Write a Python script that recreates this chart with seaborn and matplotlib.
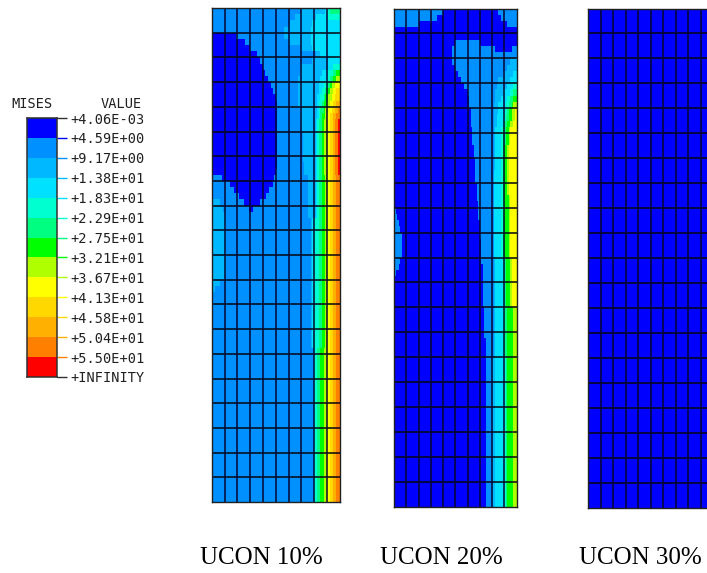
import numpy as np
import seaborn as sns
import matplotlib.pyplot as plt
from matplotlib.colors import ListedColormap

W, H = 707, 573
GRID = 80  # cells per side of each contour panel

### LEGEND ###
LEVEL_COLORS = ["#0000ff", "#0090ff", "#00b8ff", "#00e0ff", "#00ffd0", "#00ff80", "#00ff00",
                "#b0ff00", "#ffff00", "#ffd800", "#ffb000", "#ff8000", "#ff0000"]
LEVEL_LABELS = ["+4.06E-03", "+4.59E+00", "+9.17E+00", "+1.38E+01", "+1.83E+01", "+2.29E+01", "+2.75E+01",
                "+3.21E+01", "+3.67E+01", "+4.13E+01", "+4.58E+01", "+5.04E+01", "+5.50E+01", "+INFINITY"]
PANEL_LABELS = ["UCON 10%", "UCON 20%", "UCON 30%"]

### CONTOUR BANDS, each row is level:last_column read across the panel, 80 rows ###
TAIL_10_A = "2:65 3:66 4:67 5:69 6:70 7:72 8:74 9:76 a:77 b:79 c:80"
TAIL_10_B = "2:65 3:66 4:67 5:69 6:71 7:72 8:74 9:76 a:78 b:80"
TAIL_10_C = "2:63 3:64 4:67 5:69 6:71 7:72 8:74 9:76 a:78 b:80"

UCON_10 = [
    "1:56 2:71 3:72 4:74 5:80",
    "1:52 2:65 3:73 4:80",
    "1:49 2:63 3:80",
    "1:45 2:62 3:80",
    "0:15 1:45 2:62 3:80",
    "0:21 1:48 2:62 3:80",
    "0:24 1:56 2:63 3:80",
    "0:28 1:65 2:68 3:80",
    "0:30 1:63 2:73 3:80",
    "0:32 1:56 2:73 3:76 4:80",
    "0:33 1:55 2:69 3:73 4:76 5:78 6:80",
    "0:35 1:54 2:68 3:72 4:74 5:76 6:78 7:80",
    "0:37 1:54 2:67 3:70 4:72 5:74 6:75 7:77 8:80",
    "0:38 1:54 2:67 3:69 4:71 5:72 6:74 7:76 8:78 9:80",
    "0:40 1:54 2:66 3:68 4:70 5:71 6:73 7:75 8:77 9:80",
    "0:41 1:54 2:66 3:67 4:69 5:70 6:72 7:74 8:76 9:78 a:80",
    "0:41 1:55 2:66 3:67 4:68 5:70 6:71 7:73 8:75 9:77 a:79 b:80",
    "0:41 1:55 2:66 3:67 4:68 5:69 6:71 7:72 8:74 9:76 a:78 b:80",
    "0:41 1:56 " + TAIL_10_A,
    "0:41 1:56 " + TAIL_10_A,
    "0:41 1:57 " + TAIL_10_A,
    "0:41 1:57 " + TAIL_10_A,
    "0:41 1:57 " + TAIL_10_A,
    "0:41 1:57 " + TAIL_10_A,
    "0:41 1:57 " + TAIL_10_A,
    "0:41 1:58 " + TAIL_10_A,
    "0:40 1:58 " + TAIL_10_A,
    "1:6 0:39 1:60 " + TAIL_10_B,
    "1:11 0:38 1:60 " + TAIL_10_B,
    "1:14 0:36 1:60 " + TAIL_10_B,
    "1:17 0:34 1:60 " + TAIL_10_B,
    "2:5 1:20 0:30 1:60 " + TAIL_10_B,
    "2:7 1:23 0:26 1:60 " + TAIL_10_B,
    "2:8 1:60 " + TAIL_10_B,
    "2:9 1:62 " + TAIL_10_C,
    *["2:9 1:62 " + TAIL_10_C] * 8,
    "2:8 1:62 " + TAIL_10_C,
    "2:5 1:62 " + TAIL_10_C,
    "2:2 1:62 " + TAIL_10_C,
    *["1:62 " + TAIL_10_C] * 9,
    *["1:64 4:66 5:68 6:70 7:72 8:74 9:76 a:78 b:80"] * 25,
]

TAIL_20_A = "1:65 3:70 4:71 5:72 6:75 7:76 8:80"
TAIL_20_B = "1:65 2:66 3:71 4:72 5:73 6:76 7:77 8:80"
TAIL_20_C = "1:65 2:66 3:71 4:72 5:74 6:78 7:80"
TAIL_20_D = "1:64 2:66 3:72 4:73 5:74 6:78 7:80"

UCON_20 = [
    "1:32 0:68 1:80",
    "1:28 0:70 1:80",
    "1:16 0:74 1:80",
    "0:80",
    "0:80",
    "0:40 1:56 0:80",
    "0:38 1:66 0:77 1:80",
    "0:38 1:80",
    "0:38 1:76 2:80",
    "0:40 1:74 2:80",
    "0:42 1:71 2:78 3:80",
    "0:44 1:68 2:76 3:80",
    "0:46 1:67 2:74 3:78 4:80",
    "0:48 1:66 2:71 3:76 4:78 5:80",
    "0:49 1:66 2:70 3:74 4:76 5:78 6:80",
    "0:49 1:65 2:68 3:73 4:75 5:77 6:78 7:80",
    "0:50 1:65 2:68 3:72 4:74 5:75 6:77 7:79 8:80",
    "0:50 1:65 2:67 3:71 4:73 5:75 6:77 7:79 8:80",
    "0:50 1:65 2:67 3:71 4:72 5:74 6:76 7:78 8:80",
    "0:51 1:65 2:66 3:70 4:71 5:73 6:75 7:76 8:80",
    "0:51 1:65 2:66 3:70 4:71 5:73 6:75 7:76 8:80",
    "0:51 1:65 2:66 3:70 4:71 5:73 6:75 7:76 8:80",
    "0:52 1:65 2:66 3:70 4:71 5:72 6:74 7:75 8:80",
    "0:52 1:65 2:66 3:70 4:71 5:72 6:74 7:75 8:80",
    "0:53 1:65 2:66 3:70 4:71 5:72 6:74 7:75 8:80",
    "0:53 1:65 2:66 3:70 4:71 5:72 6:74 7:75 8:80",
    "0:53 1:65 3:70 4:71 5:72 6:74 7:75 8:80",
    "0:53 1:65 3:70 4:71 5:72 6:74 7:75 8:80",
    "0:54 1:65 3:70 4:71 5:72 6:74 7:75 8:80",
    "0:54 1:65 3:70 4:71 5:72 6:74 7:75 8:80",
    "0:54 " + TAIL_20_A,
    "0:55 " + TAIL_20_A,
    "1:1 0:55 " + TAIL_20_A,
    "1:2 0:55 " + TAIL_20_A,
    "1:3 0:56 " + TAIL_20_A,
    "1:4 0:56 " + TAIL_20_A,
    "1:5 0:56 " + TAIL_20_A,
    "1:5 0:57 " + TAIL_20_A,
    "1:5 0:57 " + TAIL_20_A,
    "1:5 0:57 " + TAIL_20_A,
    "1:4 0:57 " + TAIL_20_B,
    "1:3 0:58 " + TAIL_20_B,
    "1:1 0:58 " + TAIL_20_B,
    *["0:58 " + TAIL_20_B] * 5,
    *["0:59 " + TAIL_20_C] * 5,
    *["0:60 " + TAIL_20_C] * 3,
    *["0:60 " + TAIL_20_D] * 24,
]

UCON_30 = ["0:80"] * GRID

cmap = ListedColormap(LEVEL_COLORS)


def bands_to_levels(rows):
    # turn the level:last_column rows into the cell matrix for the heatmap
    levels = np.zeros((len(rows), GRID), dtype=int)
    for i, row in enumerate(rows):
        start = 0
        for band in row.split():
            level, end = band.split(":")
            levels[i, start:int(end)] = int(level, 16)
            start = int(end)
    return levels


def px_axes(fig, left, top, right, bottom):
    # axes placed by pixel edges measured from the top left of the picture
    return fig.add_axes([left / W, 1 - bottom / H, (right - left) / W, (bottom - top) / H])


def draw_panel(fig, rows, box):
    ax = px_axes(fig, *box)
    sns.heatmap(bands_to_levels(rows), ax=ax, cmap=cmap, vmin=-0.5, vmax=12.5, cbar=False,
                xticklabels=False, yticklabels=False)
    # FE mesh, 10 x 20 elements
    ax.hlines(np.arange(4, GRID, 4), 0, GRID, color="#050510", lw=1.1)
    ax.vlines(np.arange(8, GRID, 8), 0, GRID, color="#050530", lw=1.1)
    for side in ax.spines.values():
        side.set_visible(True)
        side.set_color("#202020")
        side.set_linewidth(1.0)
    return ax


fig = plt.figure(figsize=(W / 100, H / 100), dpi=100, facecolor="white")

draw_panel(fig, UCON_10, (212, 8, 339.5, 502))
draw_panel(fig, UCON_20, (394, 8.5, 516.5, 506.5))
draw_panel(fig, UCON_30, (588, 8.5, 713, 508))

# legend bar
leg = px_axes(fig, 27, 118, 56.5, 377)
sns.heatmap(np.arange(len(LEVEL_COLORS)).reshape(-1, 1), ax=leg, cmap=cmap, vmin=-0.5, vmax=12.5,
            cbar=False, xticklabels=False)
leg.set_yticks(np.arange(len(LEVEL_LABELS)))
leg.set_yticklabels(LEVEL_LABELS, rotation=0, family="DejaVu Sans Mono", fontsize=9.8, color="#202020")
leg.tick_params(axis="y", left=False, right=False, labelleft=False, labelright=True, length=0, pad=10)
# tick marks take the colour of the band above them
tick_colors = ["#303030"] + LEVEL_COLORS[:-1] + ["#303030"]
leg.hlines(np.arange(len(LEVEL_LABELS)), 1, 1.37, colors=tick_colors, lw=1, clip_on=False,
           transform=leg.get_yaxis_transform())
for side in leg.spines.values():
    side.set_visible(True)
    side.set_color("#303030")
    side.set_linewidth(1.1)

fig.text(32.5 / W, 1 - 104.5 / H, "MISES", ha="center", va="center", family="DejaVu Sans Mono",
         fontsize=9.8, color="#202020")
fig.text(121 / W, 1 - 104.5 / H, "VALUE", ha="center", va="center", family="DejaVu Sans Mono",
         fontsize=9.8, color="#202020")

for x, label in zip([261.5, 441.5, 640.5], PANEL_LABELS):
    fig.text(x / W, 1 - 558.5 / H, label, ha="center", va="center", family="Liberation Serif",
             fontsize=18, color="black")

fig.savefig("out.png", dpi=100)
